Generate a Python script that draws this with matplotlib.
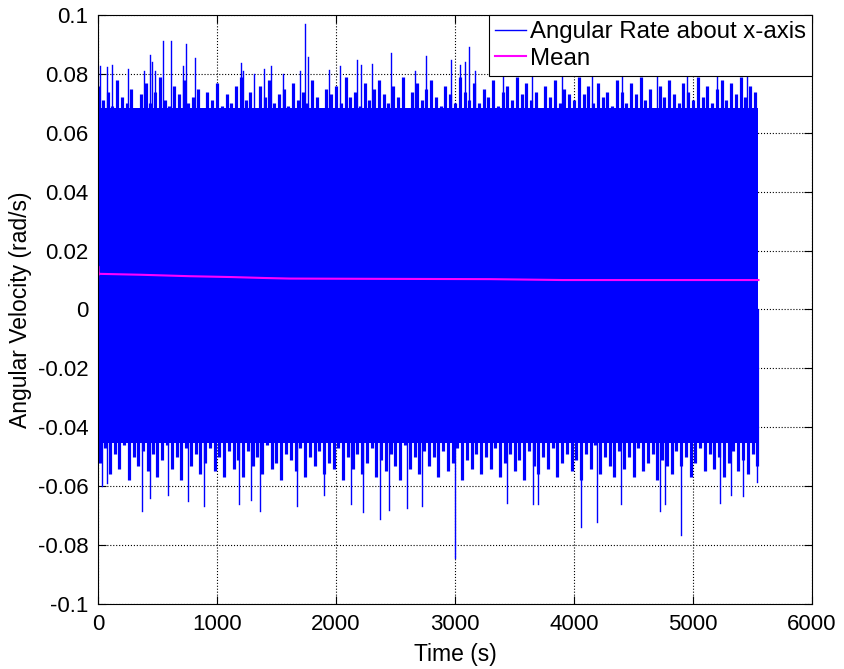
import numpy as np
import matplotlib
matplotlib.use('Agg')
import matplotlib.pyplot as plt
from matplotlib import rcParams

rcParams['axes.unicode_minus'] = False
rcParams['font.family'] = ['Liberation Sans', 'DejaVu Sans']

# --- data ------------------------------------------------------------------
t_end = 5550

# solid core of the noisy signal
core_t = [0, t_end]
core_top = [0.0685, 0.0685]
core_bot = [-0.0455, -0.0455]

# upper fringe, sampled every 40 s from t = 0
fringe_hi = [
    0.076, 0.071, 0.074, 0.069, 0.078, 0.072, 0.070, 0.075, 0.068, 0.073,
    0.077, 0.070, 0.074, 0.079, 0.071, 0.069, 0.076, 0.073, 0.078, 0.070,
    0.072, 0.075, 0.068, 0.074, 0.071, 0.077, 0.069, 0.073, 0.070, 0.076,
    0.079, 0.071, 0.074, 0.068, 0.076, 0.072, 0.078, 0.070, 0.073, 0.075,
    0.069, 0.077, 0.071, 0.074, 0.070, 0.078, 0.072, 0.068, 0.075, 0.073,
    0.076, 0.070, 0.079, 0.072, 0.074, 0.069, 0.077, 0.071, 0.075, 0.078,
    0.073, 0.070, 0.076, 0.072, 0.079, 0.068, 0.074, 0.077, 0.071, 0.075,
    0.078, 0.072, 0.069, 0.076, 0.073, 0.070, 0.079, 0.074, 0.071, 0.077,
    0.070, 0.075, 0.072, 0.078, 0.069, 0.074, 0.076, 0.071, 0.079, 0.073,
    0.077, 0.071, 0.074, 0.068, 0.076, 0.072, 0.078, 0.070, 0.075, 0.073,
    0.071, 0.079, 0.073, 0.076, 0.070, 0.077, 0.072, 0.074, 0.069, 0.078,
    0.074, 0.070, 0.077, 0.073, 0.079, 0.071, 0.075, 0.068, 0.076, 0.072,
    0.078, 0.073, 0.070, 0.077, 0.074, 0.071, 0.079, 0.072, 0.076, 0.070,
    0.075, 0.078, 0.071, 0.077, 0.073, 0.079, 0.072, 0.076, 0.074,
]

# lower fringe, sampled every 40 s from t = 20
fringe_lo = [
    -0.052, -0.047, -0.056, -0.049, -0.054, -0.046, -0.058, -0.050, -0.053, -0.048,
    -0.055, -0.049, -0.057, -0.051, -0.046, -0.054, -0.050, -0.058, -0.047, -0.053,
    -0.049, -0.056, -0.052, -0.047, -0.055, -0.050, -0.057, -0.048, -0.054, -0.051,
    -0.057, -0.048, -0.053, -0.050, -0.056, -0.046, -0.054, -0.052, -0.058, -0.049,
    -0.051, -0.055, -0.047, -0.057, -0.050, -0.053, -0.048, -0.056, -0.052, -0.054,
    -0.047, -0.058, -0.050, -0.054, -0.049, -0.056, -0.052, -0.047, -0.057, -0.051,
    -0.055, -0.049, -0.053, -0.058, -0.046, -0.054, -0.050, -0.056, -0.048, -0.053,
    -0.050, -0.057, -0.048, -0.055, -0.052, -0.047, -0.058, -0.051, -0.054, -0.049,
    -0.056, -0.050, -0.054, -0.047, -0.057, -0.052, -0.049, -0.055, -0.051, -0.058,
    -0.048, -0.053, -0.056, -0.050, -0.054, -0.047, -0.057, -0.052, -0.049, -0.055,
    -0.051, -0.058, -0.049, -0.054, -0.046, -0.056, -0.050, -0.053, -0.057, -0.048,
    -0.054, -0.050, -0.057, -0.047, -0.055, -0.052, -0.049, -0.058, -0.051, -0.053,
    -0.056, -0.048, -0.053, -0.050, -0.057, -0.052, -0.047, -0.055, -0.049, -0.054,
    -0.050, -0.057, -0.052, -0.048, -0.055, -0.051, -0.056, -0.049, -0.053,
]

# tall individual spikes
peak_hi_t = [14, 76, 120, 252, 384, 434, 451, 482, 543, 616, 711, 739, 812,
             1199, 1215, 1310, 1392, 1456, 1555, 1700, 1739, 1762, 1941, 2036,
             2173, 2212, 2302, 2464, 2660, 2754, 2966, 3044, 3085, 3120, 3167,
             3400, 3650, 3900, 4150, 4400, 4700, 4950, 5200, 5450]
peak_hi_v = [0.0827, 0.0825, 0.0830, 0.0815, 0.0810, 0.0865, 0.0841, 0.0810,
             0.0912, 0.0912, 0.0828, 0.0902, 0.0855, 0.0836, 0.0810, 0.0800,
             0.0815, 0.0828, 0.0800, 0.0810, 0.0969, 0.0858, 0.0814, 0.0828,
             0.0847, 0.0830, 0.0832, 0.0872, 0.0810, 0.0860, 0.0847, 0.0830,
             0.0842, 0.0892, 0.0810, 0.0810, 0.0800, 0.0820, 0.0800, 0.0810,
             0.0820, 0.0800, 0.0810, 0.0820]
peak_lo_t = [36, 78, 368, 435, 589, 756, 892, 1185, 1284, 1363, 1670, 1898,
             2130, 2230, 2373, 2448, 2598, 2722, 2997, 3440, 3657, 3700, 4057,
             4192, 4396, 4720, 4763, 4899, 5224, 5323, 5416, 5541]
peak_lo_v = [-0.0600, -0.0590, -0.0683, -0.0640, -0.0630, -0.0650, -0.0666,
             -0.0660, -0.0647, -0.0684, -0.0667, -0.0630, -0.0660, -0.0688,
             -0.0710, -0.0680, -0.0674, -0.0666, -0.0845, -0.0658, -0.0660,
             -0.0660, -0.0740, -0.0723, -0.0660, -0.0685, -0.0660, -0.0766,
             -0.0658, -0.0630, -0.0632, -0.0585]

# running mean
mean_t = [0, 2, 5, 12, 350, 520, 770, 1130, 1390, 1610, 2400, 3300, 3900, 5550]
mean_v = [0.0090, 0.0147, 0.0118, 0.0121, 0.0118, 0.0116, 0.0113, 0.0110,
          0.0107, 0.0105, 0.0104, 0.0103, 0.0100, 0.0100]

x_ticks = [0, 1000, 2000, 3000, 4000, 5000, 6000]
y_ticks = [-0.1, -0.08, -0.06, -0.04, -0.02, 0, 0.02, 0.04, 0.06, 0.08, 0.1]
y_tick_labels = ['-0.1', '-0.08', '-0.06', '-0.04', '-0.02', '0',
                 '0.02', '0.04', '0.06', '0.08', '0.1']


def strokes(ts, vs):
    xs, ys = [], []
    for t, v in zip(ts, vs):
        xs += [t, t, np.nan]
        ys += [0, v, np.nan]
    return xs, ys


hi_t = np.arange(len(fringe_hi)) * 40
lo_t = np.arange(len(fringe_lo)) * 40 + 20

fx, fy = [], []
for ts, vs in [(hi_t, fringe_hi), (lo_t, fringe_lo)]:
    a, b = strokes(ts, vs)
    fx += a
    fy += b
px, py = [], []
for ts, vs in [(peak_hi_t, peak_hi_v), (peak_lo_t, peak_lo_v)]:
    a, b = strokes(ts, vs)
    px += a
    py += b

fig = plt.figure(figsize=(8.44, 6.69), dpi=100)
ax = fig.add_axes([0.1161, 0.0972, 0.8460, 0.8804])
ax.set_axisbelow(True)

ax.fill_between(core_t, core_bot, core_top, color='#0000ff', lw=0)
ax.plot(fx, fy, color='#0000ff', lw=2.3, solid_capstyle='butt')
ax.plot(px, py, color='#0000ff', lw=1.0, label='Angular Rate about x-axis')
ax.plot(mean_t, mean_v, color='#ff00ff', lw=1.5, label='Mean')

ax.set_xlim(0, 6000)
ax.set_ylim(-0.1, 0.1)
ax.set_xticks(x_ticks)
ax.set_yticks(y_ticks)
ax.set_yticklabels(y_tick_labels)
ax.tick_params(direction='in', top=True, right=True, length=6, width=0.8,
               labelsize=16)
ax.tick_params(axis='x', pad=7)
ax.tick_params(axis='y', pad=7)
ax.grid(True, linestyle=':', color='black', lw=0.8)
for s in ax.spines.values():
    s.set_linewidth(0.8)

ax.set_xlabel('Time (s)', fontsize=16.5, labelpad=6)
ax.set_ylabel('Angular Velocity (rad/s)', fontsize=16.5, labelpad=4)

leg = ax.legend(loc='upper right', fontsize=17.3, fancybox=False, framealpha=1,
                edgecolor='black', borderaxespad=0, handlelength=1.3,
                handletextpad=0.15, borderpad=0.25, labelspacing=0.2)
leg.get_frame().set_linewidth(0.8)

fig.savefig('out.png', dpi=100)
